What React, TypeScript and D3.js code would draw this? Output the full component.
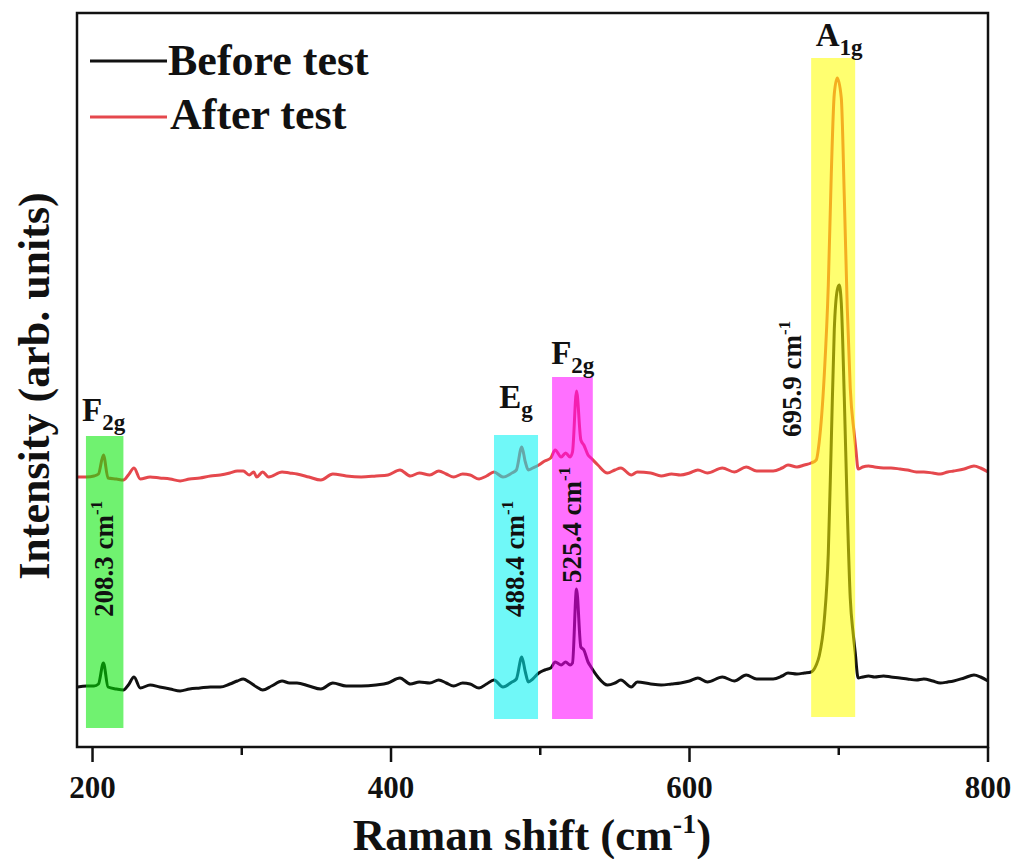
import * as d3 from "d3";

// Raman spectra: [shift (cm-1), intensity (a.u.)]
const beforeTest: [number, number][] = [
  [190, 60], [196, 61], [201, 61], [204, 63], [207.3, 84], [210.4, 60], [216, 58], [220.7, 57],
  [224, 62], [227.8, 70], [232, 59], [238.6, 62], [245, 60], [252, 58], [258.7, 56], [265, 58],
  [272, 59], [279, 60], [285.6, 60], [292, 63], [297, 66], [301, 68], [305, 65], [310, 60],
  [314, 57], [320, 61], [327, 66], [332, 64], [337, 64], [345, 61], [353, 58], [361, 64],
  [370, 61], [380, 61], [390, 62], [398, 64], [406, 69], [413, 63], [419, 65], [426, 64],
  [432, 67], [437, 64], [442, 61], [448, 64], [453, 63], [459, 59], [464, 63], [469, 67],
  [475, 60], [481, 65], [484, 68], [487.6, 90], [490, 75], [492, 65], [495, 68], [499, 74],
  [503, 77], [507, 79], [510, 85], [514, 82], [517, 85], [520, 82], [521.6, 84], [524.3, 158],
  [527.2, 100], [529.2, 97], [532, 85], [534, 80], [538.6, 70], [545, 62], [550, 64], [554, 67],
  [561, 60], [565, 65], [574, 63], [581, 62], [588, 63], [594, 64], [600, 66], [605.6, 69],
  [612, 65], [622, 70], [630, 66], [638, 72], [645, 68], [656, 68], [662, 71], [666, 74],
  [672, 73], [677, 74], [681.5, 75], [684.9, 82], [686.9, 91], [690.3, 127], [693, 194],
  [695, 305], [697, 417], [699, 457], [700.3, 462], [701.7, 444], [703.7, 350], [705.7, 238],
  [707.7, 149], [709.7, 113], [711, 95], [713, 69], [716, 70], [720, 71], [724, 70], [730, 71],
  [735, 70], [741, 69], [746, 68], [752, 67], [757, 68], [763, 66], [768, 64], [773, 65],
  [777, 66], [784, 69], [790.6, 72], [795, 70], [800, 66],
];

const afterTest: [number, number][] = [
  [190, 270], [196, 270], [201, 271], [204, 273], [207.3, 292], [210.4, 269], [216, 268], [220.7, 267],
  [224, 272], [227.8, 279], [232, 268], [238.6, 270], [245, 269], [252, 268], [258.7, 266], [265, 268],
  [272, 269], [279, 271], [285.6, 272], [292, 274], [297, 276], [301, 276], [305, 272], [308, 275],
  [310, 270], [314, 275], [318, 270], [327, 275], [332, 274], [337, 273], [345, 270], [353, 267],
  [361, 273], [370, 271], [380, 270], [390, 271], [398, 272], [406, 277], [413, 271], [419, 274],
  [426, 272], [432, 276], [437, 273], [442, 270], [448, 273], [453, 272], [459, 268], [464, 271],
  [469, 275], [475, 270], [481, 274], [484, 277], [487.6, 300], [490, 285], [492, 277], [495, 279],
  [499, 282], [503, 286], [507, 289], [510, 297], [514, 290], [517, 294], [520, 290], [521.6, 295],
  [524.3, 356], [527.2, 307], [529.2, 302], [532, 292], [534, 289], [538.6, 282], [545, 274],
  [550, 277], [554, 279], [561, 272], [565, 275], [574, 274], [581, 271], [588, 273], [594, 272],
  [600, 274], [605.6, 277], [612, 274], [622, 279], [630, 275], [638, 280], [645, 276], [656, 276],
  [662, 279], [666, 282], [672, 280], [677, 282], [681.5, 284], [684.9, 287], [686.9, 305],
  [690.3, 372], [693, 462], [695, 573], [697, 653], [699, 669], [701.7, 649], [703.7, 551],
  [705.7, 439], [707.7, 359], [710.3, 314], [711.5, 297], [713, 278], [716, 280], [720, 281],
  [724, 280], [730, 279], [735, 279], [741, 278], [746, 277], [752, 275], [757, 275], [763, 274],
  [768, 273], [773, 275], [777, 276], [784, 278], [790.6, 281], [795, 279], [800, 275],
];

const xTicks = [200, 400, 600, 800];
const xMinorTicks = [300, 500, 700];

// highlighted bands: shift range and intensity range
const bandShifts = [[195.6, 220.7], [469, 498.5], [507.9, 535.2], [681.5, 711]];
const bandIntensity = [[19, 311], [28, 312], [28, 370], [30, 689]];
const bandColors = ["#00e800", "#00f2f2", "#ff00ff", "#ffff00"];

// mode labels
const modeMain = ["F", "E", "F", "A"];
const modeSub = ["2g", "g", "2g", "1g"];
const modeAt = [[193, 326], [472.5, 339], [507.3, 383], [684.6, 701]];

// peak positions written vertically
const peakText = ["208.3", "488.4", "525.4", "695.9"];
const peakAt = [[213.7, 130], [489.2, 130], [527.4, 164], [674.9, 310]];

const W = 1015;
const H = 859;
const font = "'Liberation Serif', 'Times New Roman', Times, serif";

const App = () => {
  const x = d3.scaleLinear().domain([189.6, 800]).range([77, 988]);
  const y = d3.scaleLinear().domain([0, 734]).range([747, 13]);
  const line = d3.line<[number, number]>()
    .x(d => x(d[0]))
    .y(d => y(d[1]))
    .curve(d3.curveMonotoneX);

  return (
    <svg width={W} height={H} style={{ position: "absolute", left: 0, top: 0, background: "#fff" }}
      fontFamily={font} fontWeight="bold">
      <path d={line(beforeTest) ?? ""} fill="none" stroke="#111" strokeWidth={3} strokeLinejoin="round" />
      <path d={line(afterTest) ?? ""} fill="none" stroke="#e5484d" strokeWidth={3} strokeLinejoin="round" />

      {bandShifts.map((b, i) => (
        <rect key={i} x={x(b[0])} width={x(b[1]) - x(b[0])}
          y={y(bandIntensity[i][1])} height={y(bandIntensity[i][0]) - y(bandIntensity[i][1])}
          fill={bandColors[i]} opacity={0.56} />
      ))}

      {modeMain.map((m, i) => (
        <text key={i} x={x(modeAt[i][0])} y={y(modeAt[i][1])} fontSize={33} fill="#111">
          {m}<tspan fontSize={23} dy={9}>{modeSub[i]}</tspan>
        </text>
      ))}

      {peakText.map((t, i) => {
        const px = x(peakAt[i][0]);
        const py = y(peakAt[i][1]);
        return (
          <text key={i} transform={`translate(${px},${py}) rotate(-90)`} fontSize={27} fill="#111">
            {t} cm<tspan fontSize={17} dy={-11}>-1</tspan>
          </text>
        );
      })}

      {/* legend */}
      <line x1={90} x2={167} y1={61} y2={61} stroke="#111" strokeWidth={3} />
      <text x={168} y={75} fontSize={44} fill="#111">Before test</text>
      <line x1={90} x2={167} y1={117} y2={117} stroke="#e5484d" strokeWidth={3} />
      <text x={170} y={129} fontSize={44} fill="#111">After test</text>

      {/* frame */}
      <rect x={77} y={13} width={988 - 77} height={747 - 13} fill="none" stroke="#111" strokeWidth={2.5} />

      {xTicks.map(t => (
        <g key={t}>
          <line x1={x(t)} x2={x(t)} y1={747} y2={762} stroke="#111" strokeWidth={2.5} />
          <text x={x(t)} y={798} fontSize={31} textAnchor="middle" fill="#111">{t}</text>
        </g>
      ))}
      {xMinorTicks.map(t => (
        <line key={t} x1={x(t)} x2={x(t)} y1={747} y2={755} stroke="#111" strokeWidth={2.5} />
      ))}

      <text x={532} y={850} fontSize={45} textAnchor="middle" fill="#111">
        Raman shift (cm<tspan fontSize={28} dy={-17}>-1</tspan><tspan dy={17}>)</tspan>
      </text>
      <text transform="translate(49,386) rotate(-90)" fontSize={44} textAnchor="middle" fill="#111">
        Intensity (arb. units)
      </text>
    </svg>
  );
};

export default App;
